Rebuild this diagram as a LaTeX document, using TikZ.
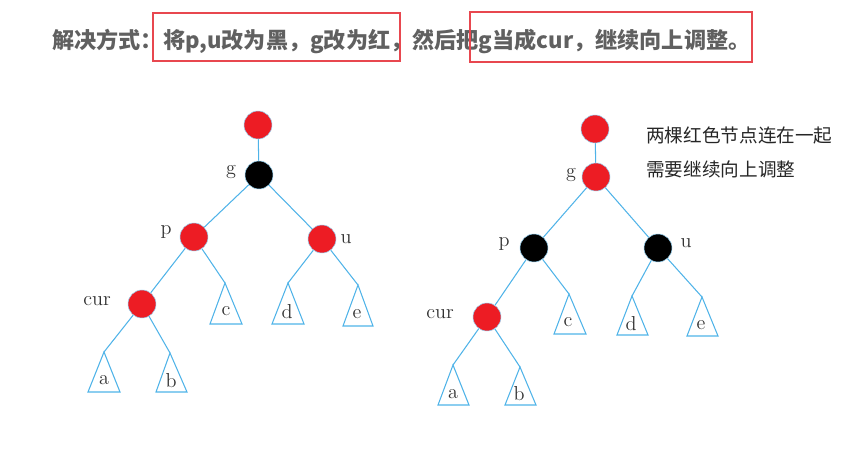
\documentclass[tikz,border=0pt]{standalone}
\usepackage{fontspec}
\newfontfamily\cjk{Noto Sans CJK SC}
\definecolor{rbred}{RGB}{237, 28, 36}
\definecolor{edgeblue}{RGB}{79, 179, 232}
\definecolor{titlegray}{RGB}{96, 96, 96}
\definecolor{boxred}{RGB}{232, 71, 79}
\usetikzlibrary{positioning}

\begin{document}
\begin{tikzpicture}[x=0.02cm, y=-0.02cm,
    rednode/.style={circle, fill=rbred, draw=edgeblue!60, line width=0.3pt, minimum size=0.56cm, inner sep=0pt},
    blacknode/.style={circle, fill=black, draw=edgeblue!60, line width=0.3pt, minimum size=0.56cm, inner sep=0pt},
    link/.style={draw=edgeblue, line width=0.6pt},
    subtree/.style={draw=edgeblue, line width=0.6pt},
    tag/.style={font=\fontsize{11.5}{13}\selectfont, text=black!80, inner sep=0pt},
    note/.style={font=\cjk\fontsize{10.6}{13}\selectfont, text=black!85, inner sep=0pt, anchor=west}]
  \useasboundingbox (0,0) rectangle (866,449);

  % === title ===
  \node[font=\cjk\bfseries\fontsize{12.6}{15}\selectfont, text=titlegray, anchor=west, inner sep=0pt] (title) at (52,41)
    {解决方式：将p,u改为黑，g改为红，然后把g当成cur，继续向上调整。};
  \draw[boxred, line width=0.6pt] (153,13) rectangle (400,61);
  \draw[boxred, line width=0.6pt] (470,12) rectangle (752,62);

  % === left tree (before) ===
  \node[rednode] (top1) at (258,125) {};
  \node[blacknode] (g1) at (259,175) {};
  \node[rednode] (p1) at (194,237) {};
  \node[rednode] (u1) at (322,239) {};
  \node[rednode] (cur1) at (142,304) {};
  \node[tag] (lg1) at (231,172) {g};
  \node[tag] (lp1) at (166,232) {p};
  \node[tag] (lu1) at (346,239) {u};
  \node[tag] (lcur1) at (97,301) {cur};
  \coordinate (ta1) at (104,352);
  \coordinate (tb1) at (170,353);
  \coordinate (tc1) at (225,283);
  \coordinate (td1) at (288,283);
  \coordinate (te1) at (358,285);
  \draw[subtree] (ta1) -- (88,392) -- (120,392) -- cycle;
  \draw[subtree] (tb1) -- (156,392) -- (187,392) -- cycle;
  \draw[subtree] (tc1) -- (210,324) -- (242,324) -- cycle;
  \draw[subtree] (td1) -- (272,324) -- (304,324) -- cycle;
  \draw[subtree] (te1) -- (343,326) -- (373,326) -- cycle;
  \node[tag] (la1) at (104,380) {a};
  \node[tag] (lb1) at (171,381) {b};
  \node[tag] (lc1) at (226,311) {c};
  \node[tag] (ld1) at (287,312) {d};
  \node[tag] (le1) at (357,314) {e};
  \draw[link] (top1) -- (g1);
  \draw[link] (g1) -- (p1);
  \draw[link] (g1) -- (u1);
  \draw[link] (p1) -- (cur1);
  \draw[link] (p1) -- (tc1);
  \draw[link] (u1) -- (td1);
  \draw[link] (u1) -- (te1);
  \draw[link] (cur1) -- (ta1);
  \draw[link] (cur1) -- (tb1);

  % === right tree (after) ===
  \node[rednode] (top2) at (595,129) {};
  \node[rednode] (g2) at (596,177) {};
  \node[blacknode] (p2) at (534,248) {};
  \node[blacknode] (u2) at (658,248) {};
  \node[rednode] (cur2) at (487,317) {};
  \node[tag] (lg2) at (571,175) {g};
  \node[tag] (lp2) at (504,244) {p};
  \node[tag] (lu2) at (686,243) {u};
  \node[tag] (lcur2) at (440,314) {cur};
  \coordinate (ta2) at (453,365);
  \coordinate (tb2) at (520,367);
  \coordinate (tc2) at (569,294);
  \coordinate (td2) at (632,296);
  \coordinate (te2) at (702,297);
  \draw[subtree] (ta2) -- (438,405) -- (469,405) -- cycle;
  \draw[subtree] (tb2) -- (505,405) -- (536,405) -- cycle;
  \draw[subtree] (tc2) -- (554,334) -- (586,334) -- cycle;
  \draw[subtree] (td2) -- (617,335) -- (648,335) -- cycle;
  \draw[subtree] (te2) -- (687,336) -- (718,336) -- cycle;
  \node[tag] (la2) at (453,394) {a};
  \node[tag] (lb2) at (519,394) {b};
  \node[tag] (lc2) at (568,322) {c};
  \node[tag] (ld2) at (631,324) {d};
  \node[tag] (le2) at (701,325) {e};
  \draw[link] (top2) -- (g2);
  \draw[link] (g2) -- (p2);
  \draw[link] (g2) -- (u2);
  \draw[link] (p2) -- (cur2);
  \draw[link] (p2) -- (tc2);
  \draw[link] (u2) -- (td2);
  \draw[link] (u2) -- (te2);
  \draw[link] (cur2) -- (ta2);
  \draw[link] (cur2) -- (tb2);

  \node[note] (note1) at (646,135) {两棵红色节点连在一起};
  \node[note] (note2) at (646,169) {需要继续向上调整};
\end{tikzpicture}
\end{document}
